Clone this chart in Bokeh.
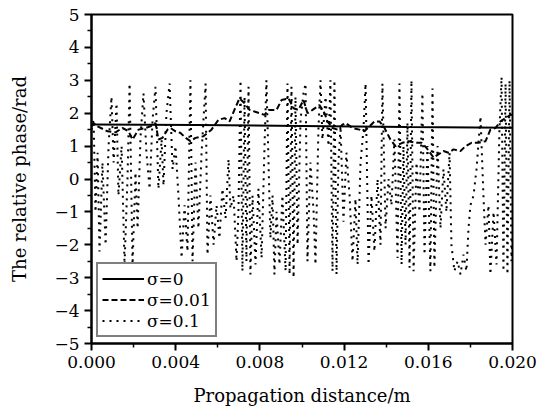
from bokeh.plotting import figure
from bokeh.models import Legend, LegendItem, FixedTicker
from bokeh.embed import file_html
from bokeh.resources import INLINE

# ---------------- data ----------------
x_ticks = [0.000, 0.004, 0.008, 0.012, 0.016, 0.020]
x_minor = [0.002, 0.006, 0.010, 0.014, 0.018]
x_tick_labels = ["0.000", "0.004", "0.008", "0.012", "0.016", "0.020"]
y_ticks = [-5, -4, -3, -2, -1, 0, 1, 2, 3, 4, 5]
y_minor = [-4.5, -3.5, -2.5, -1.5, -0.5, 0.5, 1.5, 2.5, 3.5, 4.5]
y_tick_labels = ["\u22125", "\u22124", "\u22123", "\u22122", "\u22121", "0", "1", "2", "3", "4", "5"]

series_names = ["\u03c3=0", "\u03c3=0.01", "\u03c3=0.1"]

# sigma = 0  (distance in mm, phase in rad)
s0_x_mm = [0.0, 5.0, 10.0, 15.0, 20.0]
s0_y = [1.66, 1.64, 1.61, 1.58, 1.56]

# sigma = 0.01
s1_x_mm = [0.00, 0.10, 0.29, 0.76, 1.14, 1.47, 1.76, 1.95, 2.23, 2.57, 2.80, 3.04, 3.18, 3.37, 3.61,
           3.75, 3.99, 4.23, 4.47, 4.70, 4.94, 5.32, 5.70, 6.03, 6.32, 6.56, 6.79, 7.03, 7.27, 7.51,
           7.74, 7.98, 8.22, 8.41, 8.79, 9.03, 9.36, 9.60, 9.83, 10.07, 10.26, 10.50, 10.83, 11.07,
           11.21, 11.45, 11.69, 11.92, 12.07, 12.40, 12.73, 12.97, 13.21, 13.44, 13.68, 13.92, 14.20,
           14.44, 14.77, 15.06, 15.39, 15.68, 15.91, 16.25, 16.48, 16.72, 16.96, 17.20, 17.53, 17.77,
           18.05, 18.38, 18.72, 18.95, 19.19, 19.43, 19.67, 19.90, 20.00]
s1_y = [1.60, 1.70, 1.60, 1.45, 1.42, 1.55, 1.45, 1.20, 1.50, 1.55, 1.60, 1.70, 1.20, 1.25, 1.50,
        1.55, 1.45, 1.40, 1.25, 1.15, 1.25, 1.30, 1.50, 1.80, 1.85, 1.75, 2.10, 2.45, 2.30, 2.10,
        2.05, 2.00, 1.95, 2.10, 2.10, 2.40, 2.45, 2.15, 2.10, 2.40, 2.00, 2.10, 2.25, 2.00,
        1.75, 1.55, 1.50, 1.65, 1.70, 1.55, 1.50, 1.45, 1.60, 1.75, 1.75, 1.55, 1.20,
        1.00, 1.10, 1.15, 1.10, 1.10, 0.95, 0.65, 0.75, 0.85, 0.80, 0.90, 0.85, 1.00,
        1.10, 1.10, 1.15, 1.50, 1.55, 1.75, 1.85, 1.95, 1.95]

# sigma = 0.1
s2_x_mm = [0.00, 0.10, 0.19, 0.29, 0.38, 0.52, 0.67, 0.81, 0.95, 1.05, 1.19, 1.28, 1.43, 1.57, 1.71,
           1.81, 1.95, 2.09, 2.19, 2.33, 2.47, 2.61, 2.76, 2.90, 3.04, 3.18, 3.33, 3.42, 3.56, 3.71,
           3.85, 3.99, 4.13, 4.28, 4.42, 4.56, 4.70, 4.80, 4.94, 5.08, 5.23, 5.42, 5.51, 5.65, 5.80,
           5.94, 6.08, 6.22, 6.37, 6.51, 6.60, 6.75, 6.89, 6.98, 7.08, 7.17, 7.27, 7.36, 7.46, 7.55,
           7.65, 7.79, 7.93, 8.08, 8.22, 8.31, 8.41, 8.50, 8.60, 8.69, 8.79, 8.93, 9.07, 9.22, 9.31,
           9.41, 9.50, 9.60, 9.69, 9.79, 9.93, 10.07, 10.17, 10.26, 10.40, 10.55, 10.64, 10.78, 10.88,
           10.97, 11.12, 11.26, 11.35, 11.45, 11.54, 11.64, 11.73, 11.83, 11.97, 12.11, 12.26, 12.40,
           12.54, 12.64, 12.78, 12.92, 13.02, 13.16, 13.30, 13.44, 13.59, 13.73, 13.82, 13.97, 14.11,
           14.25, 14.39, 14.54, 14.63, 14.73, 14.82, 14.92, 15.01, 15.11, 15.20, 15.30, 15.44, 15.58,
           15.72, 15.82, 15.96, 16.10, 16.20, 16.29, 16.44, 16.58, 16.72, 16.86, 17.01, 17.10, 17.24,
           17.39, 17.53, 17.67, 17.81, 17.91, 18.00, 18.15, 18.29, 18.48, 18.62, 18.72, 18.86, 18.95,
           19.10, 19.24, 19.38, 19.48, 19.57, 19.67, 19.76, 19.86, 19.95, 20.00]
s2_y = [1.5, 1.8, -1.0, 0.8, -2.2, 0.5, -2.0, 1.0, 2.5, 0.5, 2.3, -0.5, 1.0, -2.6, 0.0,
        2.9, -2.6, 0.2, -1.5, 1.3, 2.6, 0.8, -0.3, 1.8, 2.8, -0.3, 1.2, -0.2, 2.0, 2.9,
        0.3, 1.0, -0.5, -2.4, -0.8, -2.2, 3.0, -2.5, 0.5, -1.5, 0.8, 2.9, -2.3, -0.5, -2.0,
        -0.8, -1.8, -0.3, -1.2, 0.6, -0.9, -0.5, -2.5, -1.0, 3.0, -2.8, 2.5, -2.5, 2.8, -2.9,
        -0.5, -2.6, -0.3, -2.4, 1.0, 3.0, 0.5, -1.8, -0.5, -2.9, -1.0, -2.6, -0.5, -2.8, 2.9,
        -2.9, 2.8, -3.0, 2.5, -2.0, 1.8, 2.6, 2.9, -2.5, 0.5, -1.0, -2.6, 1.5, 3.0,
        1.2, 2.5, 1.0, 3.0, -2.8, 3.0, -2.9, 0.5, 1.6, -1.3, 0.8, -0.5, -2.5,
        -0.6, -2.6, 0.5, 1.5, 2.9, -2.6, -0.5, -2.2, 0.0, -2.0, 2.9, -1.5, 0.0,
        -0.8, 1.2, -2.4, 2.9, -2.6, 1.0, -2.0, 1.7, -2.7, 3.0, -2.8, 0.5, -1.0,
        2.6, -2.3, 1.0, -2.8, 2.75, -2.7, 1.0, -1.5, 0.3, -1.0, 0.8, -2.0, -2.8,
        -2.5, -2.9, -2.3, -2.8, -1.5, -0.8, -0.5, 0.3, 1.9, -0.5, -2.0, -0.8, -2.9,
        -1.0, -2.6, 1.5, 3.1, -2.8, 2.9, -2.9, 3.0, -2.5, -1.8]

# convert distances mm -> m
s0_x = [v / 1000.0 for v in s0_x_mm]
s1_x = [v / 1000.0 for v in s1_x_mm]
s2_x = [v / 1000.0 for v in s2_x_mm]

FONT = "DejaVu Serif"

p = figure(width=544, height=410, output_backend="svg", toolbar_location=None,
           x_range=(0.0, 0.020), y_range=(-5, 5),
           min_border_left=91, min_border_right=32, min_border_top=14, min_border_bottom=67)
p.background_fill_color = "white"
p.border_fill_color = "white"
p.outline_line_color = "black"
p.outline_line_width = 2
p.grid.visible = False

r2 = p.line(s2_x, s2_y, line_color="black", line_width=2, line_dash="2 5")
r1 = p.line(s1_x, s1_y, line_color="black", line_width=2, line_dash="6 3")
r0 = p.line(s0_x, s0_y, line_color="black", line_width=2)

# axes
p.xaxis.ticker = FixedTicker(ticks=x_ticks, minor_ticks=x_minor)
p.yaxis.ticker = FixedTicker(ticks=y_ticks, minor_ticks=y_minor)
p.xaxis.major_label_overrides = {t: l for t, l in zip(x_ticks, x_tick_labels)}
p.yaxis.major_label_overrides = {t: l for t, l in zip(y_ticks, y_tick_labels)}
p.xaxis.axis_label = "Propagation distance/m"
p.yaxis.axis_label = "The relative phase/rad"
for ax in (p.xaxis, p.yaxis):
    ax.axis_line_width = 2
    ax.axis_line_color = "black"
    ax.major_tick_line_width = 2
    ax.minor_tick_line_width = 1.5
    ax.major_tick_in = 0
    ax.major_tick_out = 7
    ax.minor_tick_in = 0
    ax.minor_tick_out = 4
    ax.major_label_text_font = FONT
    ax.major_label_text_font_size = "17px"
    ax.major_label_text_color = "black"
    ax.axis_label_text_font = FONT
    ax.axis_label_text_font_size = "18px"
    ax.axis_label_text_font_style = "normal"
    ax.axis_label_text_color = "black"
p.xaxis.major_label_standoff = 5
p.xaxis.axis_label_standoff = 14
p.yaxis.major_label_standoff = 5
p.yaxis.axis_label_standoff = 21

legend = Legend(items=[LegendItem(label=series_names[0], renderers=[r0]),
                       LegendItem(label=series_names[1], renderers=[r1]),
                       LegendItem(label=series_names[2], renderers=[r2])],
                location=(5, 6))
legend.label_text_font = FONT
legend.label_text_font_size = "17px"
legend.label_text_color = "black"
legend.glyph_width = 42
legend.glyph_height = 21
legend.label_height = 21
legend.label_standoff = 3
legend.spacing = 0
legend.padding = 4
legend.margin = 0
legend.border_line_color = "black"
legend.border_line_width = 2
legend.background_fill_color = "white"
legend.background_fill_alpha = 1.0
p.add_layout(legend, "center")

open("out.html", "w").write(file_html(p, INLINE))
